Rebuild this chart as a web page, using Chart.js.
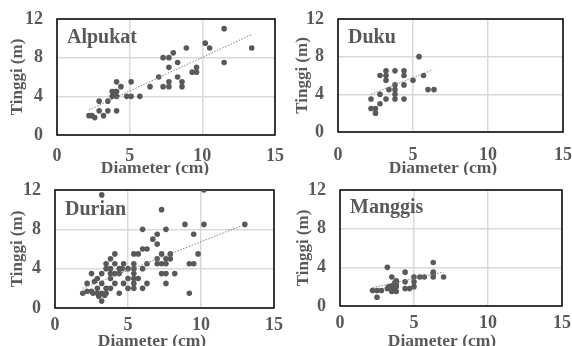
<!DOCTYPE html>
<html>
<head>
<meta charset="utf-8">
<script src="https://cdn.jsdelivr.net/npm/chart.js@4.4.1/dist/chart.umd.min.js"></script>
<style>
  body { margin: 0; background: #fff; width: 572px; height: 346px; position: relative; overflow: hidden; }
  .panel { position: absolute; }
  canvas { display: block; }
</style>
</head>
<body>
<div class="panel" style="left:0;top:0"><canvas id="alpukat" width="286" height="175"></canvas></div>
<div class="panel" style="left:286px;top:0"><canvas id="duku" width="286" height="175"></canvas></div>
<div class="panel" style="left:0;top:175px"><canvas id="durian" width="286" height="171"></canvas></div>
<div class="panel" style="left:286px;top:175px"><canvas id="manggis" width="286" height="171"></canvas></div>
<script>
// axis labels
const xTitle = "Diameter (cm)";
const yTitle = "Tinggi (m)";
const xTicks = [0, 5, 10, 15];
const yTicks = [0, 4, 8, 12];

// Alpukat
const alpukatDia = [2.2, 2.4, 2.6, 2.9, 2.9, 3.2, 3.5, 3.5, 3.8, 3.8, 4.0, 4.1, 4.1, 4.1, 4.1, 4.4, 4.8, 5.1, 5.1, 5.7, 6.4, 7.0, 7.3, 7.3, 7.7, 7.7, 7.7, 7.7, 8.0, 8.3, 8.3, 8.6, 8.6, 8.9, 9.3, 9.6, 9.6, 10.2, 10.5, 11.5, 11.5, 13.4];
const alpukatTinggi = [2.0, 2.0, 1.8, 3.5, 2.5, 2.0, 2.5, 3.5, 4.5, 4.0, 4.5, 5.5, 4.5, 4.0, 2.5, 5.0, 4.0, 5.5, 4.0, 4.0, 5.0, 6.0, 8.0, 5.0, 8.0, 7.0, 5.5, 5.0, 8.5, 7.5, 6.0, 5.5, 5.0, 9.0, 6.5, 6.5, 7.0, 9.5, 9.0, 11.0, 7.5, 9.0];
const alpukatTrend = [[2.2, 2.6], [13.4, 10.4]];

// Duku
const dukuDia = [2.2, 2.2, 2.5, 2.5, 2.8, 2.8, 2.8, 3.2, 3.2, 3.2, 3.2, 3.4, 3.8, 3.8, 3.8, 3.8, 3.8, 4.4, 4.4, 4.4, 4.4, 5.0, 5.4, 5.7, 6.0, 6.4];
const dukuTinggi = [3.5, 2.5, 2.5, 2.0, 4.0, 3.0, 6.0, 6.5, 6.0, 5.5, 3.5, 4.5, 6.5, 5.0, 4.5, 4.0, 3.5, 6.5, 6.0, 5.0, 3.5, 5.5, 8.0, 6.0, 4.5, 4.5];
const dukuTrend = [[2.2, 4.0], [6.3, 6.6]];

// Durian
const durianDia = [1.9, 2.2, 2.2, 2.5, 2.5, 2.6, 2.7, 2.9, 2.9, 2.9, 3.0, 3.2, 3.2, 3.2, 3.2, 3.2, 3.4, 3.5, 3.5, 3.5, 3.5, 3.8, 3.8, 3.8, 3.8, 3.8, 4.1, 4.1, 4.1, 4.1, 4.4, 4.4, 4.4, 4.6, 4.7, 4.7, 5.0, 5.0, 5.0, 5.4, 5.4, 5.4, 5.4, 5.4, 5.4, 5.4, 5.7, 5.7, 6.0, 6.0, 6.0, 6.0, 6.3, 6.3, 6.3, 6.7, 7.0, 7.0, 7.0, 7.0, 7.3, 7.3, 7.3, 7.3, 7.6, 7.6, 7.6, 7.6, 7.6, 7.9, 7.9, 8.2, 8.9, 9.2, 9.2, 9.5, 9.5, 9.8, 10.2, 10.2, 13.0];
const durianTinggi = [1.5, 2.5, 1.7, 3.5, 1.7, 1.5, 2.7, 3.0, 2.0, 1.5, 1.2, 11.5, 2.5, 3.5, 1.5, 0.7, 1.3, 4.5, 4.0, 1.5, 2.0, 5.0, 4.0, 3.0, 3.5, 2.0, 5.5, 4.5, 3.5, 2.5, 4.0, 3.5, 1.5, 4.0, 2.5, 4.5, 4.0, 3.0, 2.0, 5.5, 4.5, 4.0, 3.5, 3.0, 2.5, 2.0, 5.5, 3.0, 8.0, 6.0, 4.0, 2.0, 6.0, 4.5, 2.5, 7.0, 7.5, 6.5, 5.0, 4.5, 10.0, 5.5, 4.5, 3.5, 8.0, 5.0, 4.5, 3.5, 2.5, 5.5, 5.0, 3.5, 8.5, 4.5, 1.5, 7.5, 4.5, 5.5, 12.0, 8.5, 8.5];
const durianTrend = [[1.9, 2.0], [13.0, 8.5]];

// Manggis
const manggisDia = [2.2, 2.5, 2.5, 2.8, 3.2, 3.2, 3.3, 3.5, 3.5, 3.5, 3.6, 3.7, 3.8, 3.8, 3.8, 3.8, 4.4, 4.4, 4.4, 4.7, 5.0, 5.0, 5.0, 5.4, 5.7, 6.3, 6.3, 6.3, 6.3, 7.0];
const manggisTinggi = [1.6, 1.6, 0.9, 1.6, 4.0, 1.8, 2.0, 2.1, 3.0, 1.5, 1.7, 2.4, 2.6, 2.0, 1.5, 2.3, 3.5, 2.5, 1.8, 1.8, 3.0, 2.5, 2.0, 3.0, 3.0, 4.5, 3.5, 3.3, 3.0, 3.0];
const manggisTrend = [[2.2, 1.9], [7.0, 3.5]];

const grey = "#595959";
const serif = "'Liberation Serif', 'Times New Roman', serif";

// frame around plot, panel name, x-axis title
const panelDeco = {
  id: "panelDeco",
  beforeDatasetsDraw(chart, args, opts) {
    const { ctx, chartArea: a } = chart;
    ctx.save();
    ctx.strokeStyle = "#000";
    ctx.lineWidth = 1.5;
    ctx.strokeRect(a.left, a.top, a.right - a.left, a.bottom - a.top);
    ctx.restore();
  },
  afterDraw(chart, args, opts) {
    const { ctx, chartArea: a } = chart;
    ctx.save();
    ctx.fillStyle = grey;
    ctx.font = "bold 20px " + serif;
    ctx.textAlign = "left";
    ctx.textBaseline = "alphabetic";
    ctx.fillText(opts.name, a.left + 10, a.top + opts.nameY);
    ctx.font = "bold 17.5px " + serif;
    ctx.textAlign = "center";
    ctx.textBaseline = "middle";
    ctx.fillText(xTitle, opts.titleX, opts.titleY);
    ctx.restore();
  }
};

function makeChart(id, name, dia, tinggi, trend, L) {
  return new Chart(document.getElementById(id), {
    type: "scatter",
    data: {
      datasets: [
        {
          type: "line",
          data: trend.map(p => ({ x: p[0], y: p[1] })),
          borderColor: "#808080",
          borderWidth: 1,
          borderDash: [1.5, 1.5],
          pointRadius: 0,
          order: 0
        },
        {
          data: dia.map((d, i) => ({ x: d, y: tinggi[i] })),
          backgroundColor: grey,
          borderColor: grey,
          pointRadius: 2.8,
          borderWidth: 0,
          order: 1
        }
      ]
    },
    options: {
      responsive: false,
      animation: false,
      layout: { padding: { top: L.top, right: L.right, left: 0, bottom: 0 } },
      plugins: {
        legend: { display: false },
        tooltip: { enabled: false },
        panelDeco: { name: name, nameY: L.nameY, titleX: L.titleX, titleY: L.titleY }
      },
      scales: {
        x: {
          type: "linear",
          min: 0,
          max: 15,
          afterBuildTicks: s => { s.ticks = xTicks.map(v => ({ value: v })); },
          afterFit: s => { s.height = L.xH; s.paddingLeft = 0; s.paddingRight = 0; },
          ticks: { padding: L.xPad, color: grey, font: { family: serif, size: 18, weight: "bold" } },
          grid: { color: "#d9d9d9", lineWidth: 1.5, drawTicks: false },
          border: { display: false }
        },
        y: {
          type: "linear",
          min: 0,
          max: 12,
          afterBuildTicks: s => { s.ticks = yTicks.map(v => ({ value: v })); },
          afterFit: s => { s.width = L.yW; s.paddingTop = 0; s.paddingBottom = 0; },
          ticks: { padding: 14, color: grey, font: { family: serif, size: 18, weight: "bold" } },
          grid: { color: "#d9d9d9", lineWidth: 1.5, drawTicks: false },
          border: { display: false },
          title: {
            display: true,
            text: yTitle,
            color: grey,
            font: { family: serif, size: 17, weight: "bold", lineHeight: 1 },
            padding: { top: L.yTitle, bottom: 0 }
          }
        }
      }
    },
    plugins: [panelDeco]
  });
}

makeChart("alpukat", "Alpukat", alpukatDia, alpukatTinggi, alpukatTrend,
  { top: 19, right: 11, yW: 57, xH: 40, xPad: 11, yTitle: 9.5, nameY: 24, titleX: 155, titleY: 168 });
makeChart("duku", "Duku", dukuDia, dukuTinggi, dukuTrend,
  { top: 19, right: 9, yW: 52, xH: 43, xPad: 13, yTitle: 8, nameY: 24, titleX: 157, titleY: 168 });
makeChart("durian", "Durian", durianDia, durianTinggi, durianTrend,
  { top: 15, right: 12, yW: 55, xH: 38, xPad: 7, yTitle: 9.5, nameY: 25, titleX: 152, titleY: 166 });
makeChart("manggis", "Manggis", manggisDia, manggisTinggi, manggisTrend,
  { top: 15, right: 10, yW: 54, xH: 40, xPad: 7, yTitle: 9.5, nameY: 23, titleX: 156, titleY: 166 });
</script>
</body>
</html>
